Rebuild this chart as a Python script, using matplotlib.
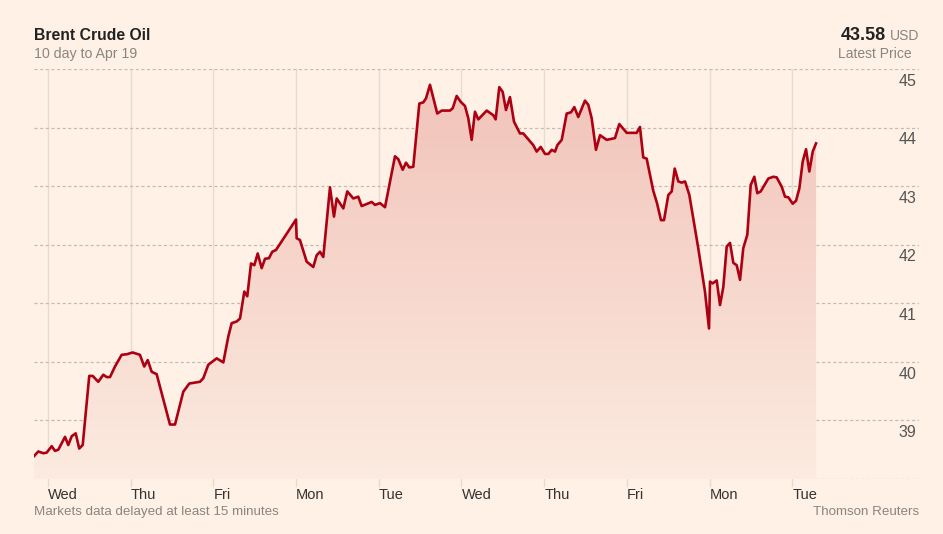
import matplotlib
matplotlib.use("Agg")
import matplotlib.pyplot as plt
import numpy as np
from matplotlib.colors import LinearSegmentedColormap
from matplotlib.patches import Polygon
import matplotlib.transforms as mtransforms

# Day position (0 = first Wed tick) and Brent price
x_pos = [-0.169, -0.117, -0.057, -0.016, 0.045, 0.085, 0.125, 0.206, 0.245, 0.287,
         0.335, 0.378, 0.420, 0.499, 0.541, 0.608, 0.669, 0.710, 0.750, 0.810,
         0.891, 0.952, 1.024, 1.112, 1.164, 1.206, 1.254, 1.314, 1.475, 1.536,
         1.636, 1.709, 1.838, 1.878, 1.938, 2.040, 2.120, 2.180, 2.221, 2.282,
         2.322, 2.374, 2.410, 2.455, 2.495, 2.536, 2.584, 2.624, 2.672, 2.712,
         2.757, 2.999, 3.007, 3.047, 3.128, 3.208, 3.249, 3.289, 3.329, 3.410,
         3.458, 3.491, 3.571, 3.619, 3.692, 3.752, 3.793, 3.914, 3.954, 4.015,
         4.075, 4.196, 4.236, 4.289, 4.329, 4.369, 4.417, 4.490, 4.538, 4.571,
         4.619, 4.707, 4.761, 4.861, 4.894, 4.942, 4.990, 5.042, 5.082, 5.123,
         5.163, 5.203, 5.305, 5.385, 5.413, 5.457, 5.498, 5.538, 5.586, 5.635,
         5.707, 5.747, 5.868, 5.909, 5.958, 6.010, 6.050, 6.091, 6.131, 6.159,
         6.212, 6.272, 6.324, 6.364, 6.412, 6.493, 6.533, 6.574, 6.626, 6.675,
         6.756, 6.856, 6.908, 6.998, 7.118, 7.158, 7.198, 7.239, 7.319, 7.364,
         7.412, 7.449, 7.501, 7.542, 7.578, 7.622, 7.663, 7.703, 7.755, 7.863,
         7.944, 7.993, 8.005, 8.037, 8.086, 8.126, 8.166, 8.207, 8.247, 8.287,
         8.328, 8.368, 8.407, 8.456, 8.497, 8.541, 8.577, 8.618, 8.710, 8.770,
         8.811, 8.872, 8.912, 8.952, 9.005, 9.045, 9.085, 9.126, 9.166, 9.206,
         9.247, 9.287]
price = [38.39, 38.47, 38.44, 38.45, 38.56, 38.48, 38.50, 38.72, 38.58, 38.73,
         38.78, 38.52, 38.58, 39.76, 39.76, 39.66, 39.78, 39.74, 39.74, 39.92,
         40.12, 40.13, 40.16, 40.12, 39.92, 40.03, 39.83, 39.79, 38.93, 38.93,
         39.49, 39.63, 39.66, 39.72, 39.95, 40.06, 39.99, 40.43, 40.66, 40.69,
         40.74, 41.20, 41.12, 41.68, 41.65, 41.85, 41.60, 41.76, 41.77, 41.88,
         41.91, 42.43, 42.11, 42.08, 41.71, 41.62, 41.82, 41.88, 41.79, 42.98,
         42.48, 42.79, 42.62, 42.91, 42.79, 42.82, 42.66, 42.73, 42.68, 42.71,
         42.64, 43.51, 43.46, 43.28, 43.40, 43.32, 43.33, 44.41, 44.43, 44.50,
         44.73, 44.24, 44.29, 44.29, 44.33, 44.54, 44.44, 44.37, 44.16, 43.79,
         44.27, 44.14, 44.29, 44.21, 44.14, 44.69, 44.61, 44.30, 44.52, 44.10,
         43.90, 43.90, 43.70, 43.59, 43.67, 43.55, 43.55, 43.62, 43.59, 43.70,
         43.79, 44.24, 44.26, 44.35, 44.18, 44.46, 44.39, 44.16, 43.62, 43.87,
         43.79, 43.82, 44.06, 43.91, 43.91, 44.01, 43.49, 43.47, 42.92, 42.71,
         42.42, 42.42, 42.85, 42.91, 43.30, 43.08, 43.06, 43.08, 42.85, 41.94,
         41.20, 40.57, 41.37, 41.34, 41.39, 40.97, 41.28, 41.97, 42.03, 41.69,
         41.65, 41.40, 41.94, 42.17, 43.02, 43.16, 42.88, 42.91, 43.13, 43.16,
         43.15, 42.99, 42.82, 42.81, 42.70, 42.75, 42.96, 43.42, 43.63, 43.25,
         43.59, 43.73]
day_labels = ["Wed", "Thu", "Fri", "Mon", "Tue", "Wed", "Thu", "Fri", "Mon", "Tue"]
y_ticks = [39, 40, 41, 42, 43, 44, 45]
y_grid = [38, 39, 40, 41, 42, 43, 44, 45]

bg = "#FFF1E5"
red = "#AD0012"
grey = "#8a8580"
plt.rcParams["font.family"] = ["Liberation Sans", "DejaVu Sans"]

fig = plt.figure(figsize=(9.43, 5.34), dpi=100, facecolor=bg)
ax = fig.add_axes([34 / 943, 55 / 534, 885 / 943, 410 / 534])
ax.set_facecolor(bg)
ax.set_xlim(-0.169, 10.532)
ax.set_ylim(38, 45)
for s in ax.spines.values():
    s.set_visible(False)
ax.set_xticks([])
ax.set_yticks([])

# grid
for g in y_grid:
    ax.axhline(g, color="#c4bcb3", lw=0.9, ls=(0, (2.5, 2)), zorder=1)
trans = mtransforms.blended_transform_factory(ax.transData, ax.transAxes)
for i, lab in enumerate(day_labels):
    ax.plot([i, i], [-0.017, 1], color="#e6dcd0", lw=1, transform=trans,
            clip_on=False, zorder=0)
    ax.text(i, -0.039, lab, transform=trans, ha="left", va="center",
            fontsize=10.5, color="#333333")

ytrans = mtransforms.blended_transform_factory(ax.transAxes, ax.transData)
for v in y_ticks:
    ax.text(0.997, v - 0.08, str(v), transform=ytrans, ha="right", va="top",
            fontsize=11.5, color="#555555")

# gradient fill under the line
cmap = LinearSegmentedColormap.from_list("fill", ["#FCEBE0", "#F1C2B8"])
grad = np.linspace(0, 1, 256).reshape(-1, 1)
img = ax.imshow(grad, extent=[-0.169, 10.532, 38, 45], origin="lower",
                cmap=cmap, aspect="auto", zorder=2)
verts = [(x_pos[0], 38)] + list(zip(x_pos, price)) + [(x_pos[-1], 38)]
poly = Polygon(verts, closed=True, facecolor="none", edgecolor="none")
ax.add_patch(poly)
img.set_clip_path(poly)

ax.plot(x_pos, price, color=red, lw=1.9, zorder=3)

# header and footer texts
fig.text(34 / 943, 1 - 35 / 534, "Brent Crude Oil", fontsize=11.3, fontweight="bold",
         color="#222222", ha="left", va="center")
fig.text(34 / 943, 1 - 54 / 534, "10 day to Apr 19", fontsize=10.2,
         color=grey, ha="left", va="center")
fig.text(886 / 943, 1 - 35 / 534, "43.58", fontsize=13, fontweight="bold",
         color="#222222", ha="right", va="center")
fig.text(919 / 943, 1 - 36 / 534, "USD", fontsize=10,
         color=grey, ha="right", va="center")
fig.text(912 / 943, 1 - 54 / 534, "Latest Price", fontsize=10,
         color=grey, ha="right", va="center")
fig.text(34 / 943, 1 - 512 / 534, "Markets data delayed at least 15 minutes",
         fontsize=9.6, color=grey, ha="left", va="center")
fig.text(919 / 943, 1 - 512 / 534, "Thomson Reuters", fontsize=9.6,
         color=grey, ha="right", va="center")

fig.savefig("out.png", dpi=100, facecolor=bg)
